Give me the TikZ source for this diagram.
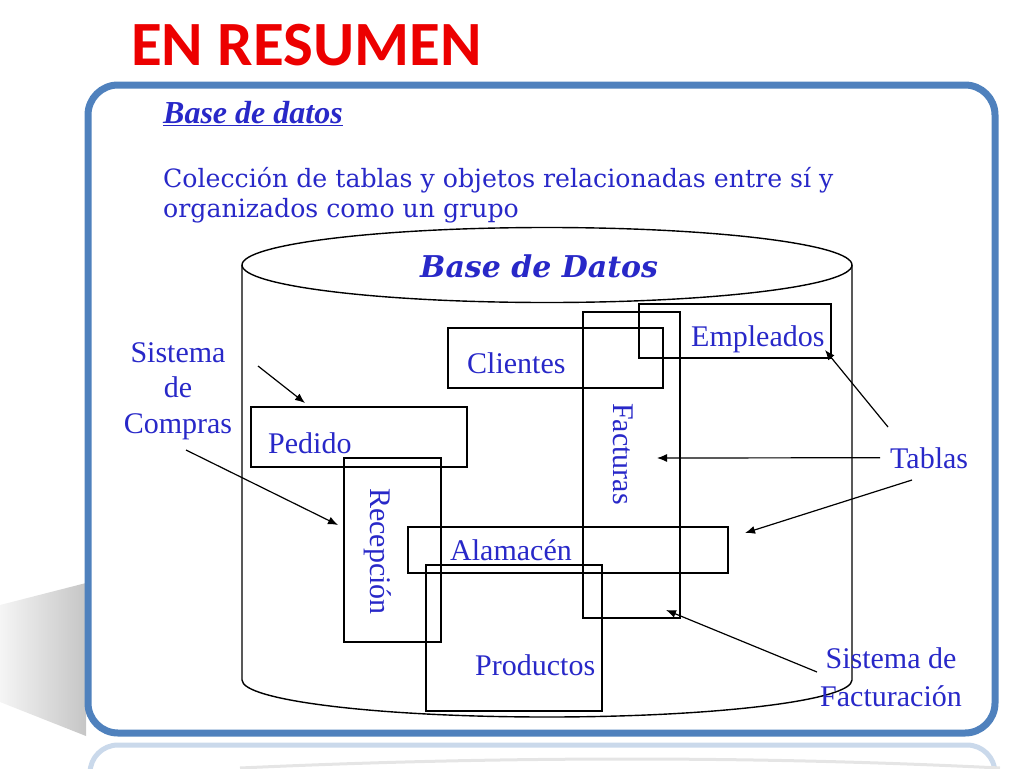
\documentclass[tikz,border=0pt]{standalone}
\usepackage{fontspec}
\setmainfont{Liberation Serif}
\newfontfamily\titlefont{Carlito}
\newfontfamily\bodyfont{DejaVu Serif}
\usetikzlibrary{arrows.meta,positioning}

\definecolor{marco}{RGB}{79,129,189}
\definecolor{azul}{RGB}{40,40,200}
\definecolor{rojo}{RGB}{236,0,0}

\tikzset{
  tabla/.style={draw, line width=1.5pt, inner sep=0pt, outer sep=0pt},
  etiqueta/.style={text=azul, inner sep=0pt, font=\fontsize{30}{36}\selectfont},
  flecha/.style={-{Latex[length=10pt,width=8pt]}, line width=1.2pt},
  cilindro/.style={line width=1.4pt}
}

\begin{document}
\begin{tikzpicture}[x=1pt,y=-1pt]

  \useasboundingbox (0,0) rectangle (1024,768);

  % Shadow and reflection
  \shade[left color=gray!8, right color=gray!45] (0,605) -- (86,583) -- (86,736) -- (0,702) -- cycle;
  \draw[marco!30, line width=5pt, rounded corners=28pt] (90,790) -- (90,745) -- (995,745) -- (995,790);
  \draw[gray!20, line width=3pt] (240,768) .. controls (500,756) and (760,756) .. (1000,768);

  % Frame
  \draw[marco, line width=7pt, rounded corners=30pt] (88,85) rectangle (995,733);

  % Title
  \node[text=rojo, inner sep=0pt, anchor=base west, font=\titlefont\bfseries\fontsize{63}{70}\selectfont] (titulo) at (131,66) {EN RESUMEN};

  % Definition
  \node[text=azul, inner sep=0pt, anchor=base west, font=\bfseries\itshape\fontsize{32}{36}\selectfont] (def) at (163,123) {\underline{Base de datos}};
  \node[text=azul, inner sep=0pt, anchor=base west, align=left, font=\bodyfont\fontsize{25.2}{30}\selectfont] (texto) at (163,217)
    {Colección de tablas y objetos relacionadas entre sí y\\organizados como un grupo};

  % Cylinder
  \draw[cilindro] (547,265) ellipse [x radius=305pt, y radius=37.5pt];
  \draw[cilindro] (242,265) -- (242,680) arc[start angle=180, end angle=360, x radius=305pt, y radius=37pt] -- (852,265);
  \node[text=azul, inner sep=0pt, anchor=base west, font=\bodyfont\bfseries\itshape\fontsize{30}{36}\selectfont] (bd) at (420,277) {Base de Datos};

  % Tables
  \node[tabla, minimum width=215pt, minimum height=60pt]  (clientes)  at (555.5,358) {};
  \node[tabla, minimum width=192pt, minimum height=54pt]  (empleados) at (735,331) {};
  \node[tabla, minimum width=97pt,  minimum height=306pt] (facturas)  at (631.5,465) {};
  \node[tabla, minimum width=216pt, minimum height=60pt]  (pedido)    at (359,437) {};
  \node[tabla, minimum width=97pt,  minimum height=184pt] (recepcion) at (392.5,550) {};
  \node[tabla, minimum width=320pt, minimum height=46pt]  (alamacen)  at (568,550) {};
  \node[tabla, minimum width=176pt, minimum height=146pt] (productos) at (514,638) {};

  % Table names
  \node[etiqueta, anchor=base west] (clientes-t)  at (467,373) {Clientes};
  \node[etiqueta, anchor=base west] (empleados-t) at (691,346) {Empleados};
  \node[etiqueta, anchor=base west] (pedido-t)    at (268,453) {Pedido};
  \node[etiqueta, anchor=base west] (alamacen-t)  at (450,560) {Alamacén};
  \node[etiqueta, anchor=base west] (productos-t) at (475,675) {Productos};
  \node[etiqueta, anchor=base west, rotate=-90] (facturas-t)  at (613,403) {Facturas};
  \node[etiqueta, anchor=base west, rotate=-90] (recepcion-t) at (370,488) {Recepción};

  % Outside labels
  \node[etiqueta, anchor=north, align=center, font=\fontsize{30}{35.5}\selectfont] (compras) at (178,342) {Sistema\\de\\Compras};
  \node[etiqueta, anchor=base west] (tablas) at (890,468) {Tablas};
  \node[etiqueta, anchor=north, align=center, font=\fontsize{30}{38}\selectfont] (facturacion) at (891,647) {Sistema de\\Facturación};

  % Arrow ends
  \coordinate (compras-a)     at (258,366);
  \coordinate (compras-b)     at (186,450);
  \coordinate (pedido-in)     at (305,403);
  \coordinate (recepcion-in)  at (338,525);
  \coordinate (tablas-a)      at (888,427);
  \coordinate (tablas-c)      at (912,480);
  \coordinate (empleados-in)  at (825,350);
  \coordinate (facturas-in)   at (657,458);
  \coordinate (alamacen-in)   at (745,533);
  \coordinate (facturacion-a) at (817,672);
  \coordinate (facturas-bot)  at (666,610);

  % Arrows
  \draw[flecha] (compras-a) -- (pedido-in);
  \draw[flecha] (compras-b) -- (recepcion-in);
  \draw[flecha] (tablas-a) -- (empleados-in);
  \draw[flecha] ([xshift=-10pt]tablas.west) -- (facturas-in);
  \draw[flecha] (tablas-c) -- (alamacen-in);
  \draw[flecha] (facturacion-a) -- (facturas-bot);

\end{tikzpicture}
\end{document}
